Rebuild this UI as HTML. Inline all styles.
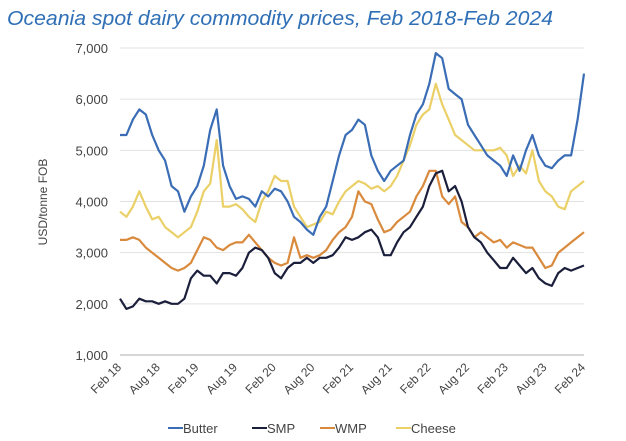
<!DOCTYPE html>
<html><head><meta charset="utf-8"><style>
html,body{margin:0;padding:0;background:#fff;}
svg{display:block;font-family:"Liberation Sans",sans-serif;}
</style></head><body>
<svg id="chart" width="626" height="441" viewBox="0 0 626 441">
<text x="7" y="25" font-size="20" font-style="italic" fill="#2f6fb6" textLength="546" lengthAdjust="spacingAndGlyphs">Oceania spot dairy commodity prices, Feb 2018-Feb 2024</text>
<text transform="translate(47,202) rotate(-90)" text-anchor="middle" font-size="12" fill="#444">USD/tonne FOB</text>
<g id="grid"></g><g id="yticks"></g><g id="xticks"></g><g id="series"></g>
<g id="legend"></g>
</svg>
<script>
const yTicks=[1000,2000,3000,4000,5000,6000,7000];
const xLabels=["Feb 18","Aug 18","Feb 19","Aug 19","Feb 20","Aug 20","Feb 21","Aug 21","Feb 22","Aug 22","Feb 23","Aug 23","Feb 24"];
const butter=[5300,5300,5600,5800,5700,5300,5000,4800,4300,4200,3800,4100,4300,4700,5400,5800,4700,4300,4050,4100,4050,3900,4200,4100,4250,4200,4000,3700,3600,3450,3350,3700,3900,4400,4900,5300,5400,5600,5500,4900,4600,4400,4600,4700,4800,5300,5700,5900,6300,6900,6800,6200,6100,6000,5500,5300,5100,4900,4800,4700,4500,4900,4600,5000,5300,4900,4700,4650,4800,4900,4900,5600,6500];
const smp=[2100,1900,1950,2100,2050,2050,2000,2050,2000,2000,2100,2500,2650,2550,2550,2400,2600,2600,2550,2700,3000,3100,3050,2900,2600,2500,2700,2800,2800,2900,2800,2900,2900,2950,3100,3300,3250,3300,3400,3450,3300,2950,2950,3200,3400,3500,3700,3900,4300,4550,4600,4200,4300,4000,3500,3300,3200,3000,2850,2700,2700,2900,2750,2600,2700,2500,2400,2350,2600,2700,2650,2700,2750];
const wmp=[3250,3250,3300,3250,3100,3000,2900,2800,2700,2650,2700,2800,3050,3300,3250,3100,3050,3150,3200,3200,3350,3200,3050,2900,2800,2750,2800,3300,2900,2950,2900,2950,3050,3250,3400,3500,3700,4200,4000,3950,3650,3400,3450,3600,3700,3800,4100,4300,4600,4600,4100,3950,4100,3600,3500,3300,3400,3300,3200,3250,3100,3200,3150,3100,3100,2900,2700,2750,3000,3100,3200,3300,3400];
const cheese=[3800,3700,3900,4200,3900,3650,3700,3500,3400,3300,3400,3500,3800,4200,4350,5200,3900,3900,3950,3850,3700,3600,4000,4200,4500,4400,4400,3900,3700,3500,3550,3600,3800,3750,4000,4200,4300,4400,4350,4250,4300,4200,4300,4500,4800,5100,5500,5700,5800,6300,5900,5600,5300,5200,5100,5000,5000,5000,5000,5050,4900,4500,4700,4550,5000,4400,4200,4100,3900,3850,4200,4300,4400];
const seriesNames=["Butter","SMP","WMP","Cheese"];
const NS="http://www.w3.org/2000/svg";
const x0=120,x1=584,yTop=48,yBot=355;
const X=i=>x0+(x1-x0)*i/72;
const Y=v=>yBot-(v-1000)/6000*(yBot-yTop);
function mk(t,a,p){const e=document.createElementNS(NS,t);for(const k in a)e.setAttribute(k,a[k]);p.appendChild(e);return e;}
const grid=document.getElementById('grid'),yt=document.getElementById('yticks'),xt=document.getElementById('xticks');
yTicks.forEach(v=>{
  const l=mk('line',{x1:x0,x2:x1,y1:Y(v),y2:Y(v),stroke:v===1000?'#c8c8c8':'#e2e2e2','stroke-width':v===1000?1.5:1},grid);
  
  
  const t=mk('text',{x:108,y:Y(v)+5,'text-anchor':'end','font-size':'13',fill:'#444'},yt);
  t.textContent=v.toLocaleString('en-US');
  
  
});
xLabels.forEach((s,i)=>{
  const x=X(i*6);
  const t=mk('text',{transform:`translate(${x+2},${368}) rotate(-45)`,'text-anchor':'end','font-size':'12',fill:'#444'},xt);
  t.textContent=s;
  
  
});
const colors=["#3a6db5","#1b1f3b","#d98a3d","#ead067"];
const data=[butter,smp,wmp,cheese];
const sg=document.getElementById('series');
[3,2,1,0].forEach(k=>{
  const d=data[k].map((v,i)=>(i?'L':'M')+X(i).toFixed(1)+','+Y(v).toFixed(1)).join('');
  const p=mk('path',{d:d,fill:'none',stroke:colors[k],'stroke-width':2.2,'stroke-linejoin':'round'},sg);
  
  
});
const lg=document.getElementById('legend');
const lx=[168,252,320,396];
seriesNames.forEach((n,k)=>{
  const l=mk('line',{x1:lx[k],x2:lx[k]+15,y1:428,y2:428,stroke:colors[k],'stroke-width':2},lg);
  
  
  const t=mk('text',{x:lx[k]+15,y:433,'font-size':'13',fill:'#444'},lg);
  t.textContent=n;
  
  
});
</script>
</body></html>
